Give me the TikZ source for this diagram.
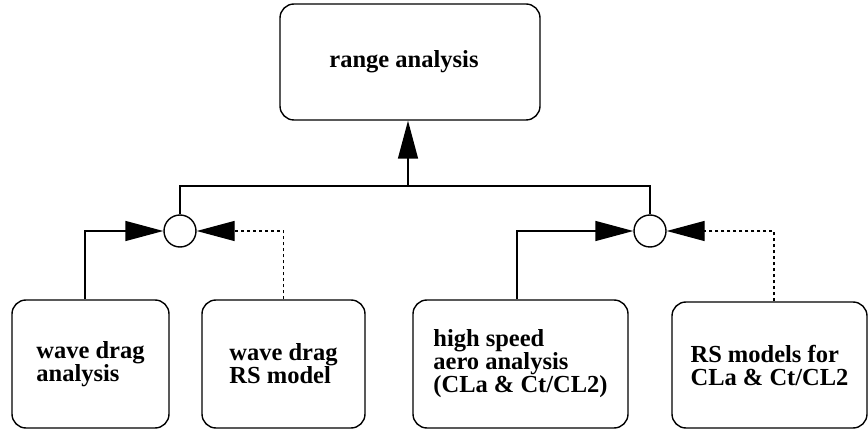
\documentclass[tikz,border=0pt]{standalone}
\usepackage{fontspec}
\setmainfont{Liberation Serif}
\usetikzlibrary{arrows.meta}
\begin{document}
\begin{tikzpicture}[x=1pt,y=-1pt,
  every node/.style={font=\fontsize{24.5}{23}\selectfont\bfseries},
  task/.style={draw, line width=1.4pt, rounded corners=14pt, align=left, inner sep=0pt},
  junction/.style={draw, line width=1.4pt, circle, minimum size=32pt, inner sep=0pt, fill=white},
  flow/.style={line width=1.4pt, -{Triangle[length=38pt,width=20pt]}},
  modelflow/.style={flow, dash pattern=on 3pt off 3pt},
  bus/.style={line width=1.4pt}]
  \useasboundingbox (0,0) rectangle (868,430);

  % goal
  \node[task, minimum width=260pt, minimum height=116pt] (range) at (410,62) {range analysis\hspace{12pt}};

  % contributing analyses and response-surface models
  \node[task, minimum width=157pt, minimum height=128pt] (wda) at (90.5,364) {wave drag\\analysis};
  \node[task, minimum width=163pt, minimum height=128pt] (wdm) at (283.5,364) {wave drag\\RS model};
  \node[task, minimum width=215pt, minimum height=128pt] (hsa) at (520.5,364) {high speed\\aero analysis\\(CLa \& Ct/CL2)};
  \node[task, minimum width=195pt, minimum height=126pt] (rsm) at (769.5,365) {RS models for\\CLa \& Ct/CL2};

  % alternative junctions
  \node[junction] (j1) at (180,231) {};
  \node[junction] (j2) at (650,231) {};

  % bus joining both junctions to the goal
  \coordinate (tap) at (408,186);
  \draw[bus] (j1.north) |- (tap) -| (j2.north);
  \draw[flow] (tap) -- (tap |- range.south);

  % inputs into the junctions
  \draw[flow] ([xshift=-5.5pt]wda.north) |- (j1.west);
  \draw[modelflow] (wdm.north) |- (j1.east);
  \draw[flow] ([xshift=-3.5pt]hsa.north) |- (j2.west);
  \draw[modelflow] ([xshift=4.5pt]rsm.north) |- (j2.east);
\end{tikzpicture}
\end{document}
